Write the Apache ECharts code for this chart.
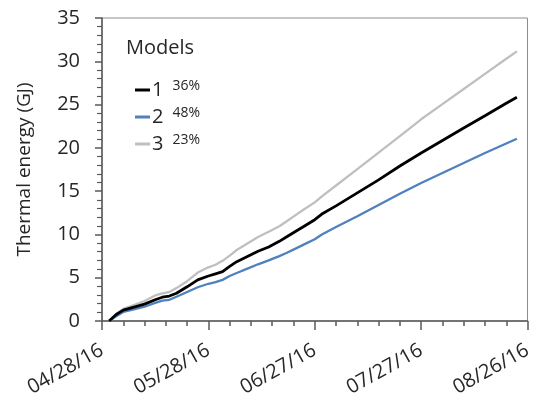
<!DOCTYPE html>
<html>
<head>
<meta charset="utf-8">
<script src="https://cdn.jsdelivr.net/npm/echarts@6/dist/echarts.min.js"></script>
<style>
  html, body { margin: 0; padding: 0; background: #fff; }
  #chart { width: 535px; height: 409px; }
</style>
</head>
<body>
<div id="chart"></div>
<script>
// Cumulative thermal energy per model, sampled on these dates
const dates = [
  '2016-04-30', '2016-05-02', '2016-05-04', '2016-05-07', '2016-05-10', '2016-05-13',
  '2016-05-15', '2016-05-17', '2016-05-19', '2016-05-22', '2016-05-25', '2016-05-28',
  '2016-05-30', '2016-06-01', '2016-06-03', '2016-06-05', '2016-06-08', '2016-06-11',
  '2016-06-14', '2016-06-17', '2016-06-19', '2016-06-22', '2016-06-24', '2016-06-27',
  '2016-06-29', '2016-07-03', '2016-07-09', '2016-07-15', '2016-07-21', '2016-07-27',
  '2016-08-02', '2016-08-08', '2016-08-14', '2016-08-20', '2016-08-23'
];
const model1 = [
  0, 0.75, 1.25, 1.6, 1.95, 2.45, 2.75, 2.88, 3.2, 3.95, 4.75, 5.2,
  5.45, 5.7, 6.3, 6.85, 7.45, 8.05, 8.55, 9.2, 9.7, 10.45, 10.95, 11.7,
  12.35, 13.3, 14.8, 16.3, 17.9, 19.4, 20.85, 22.3, 23.7, 25.15, 25.85
];
const model2 = [
  0, 0.55, 1.05, 1.35, 1.65, 2.1, 2.35, 2.45, 2.8, 3.35, 3.9, 4.3,
  4.5, 4.75, 5.2, 5.55, 6.05, 6.55, 7.0, 7.5, 7.85, 8.45, 8.85, 9.45,
  10.0, 10.85, 12.1, 13.4, 14.7, 15.95, 17.1, 18.25, 19.4, 20.5, 21.05
];
const model3 = [
  0, 0.8, 1.4, 1.85, 2.3, 2.95, 3.2, 3.35, 3.8, 4.6, 5.6, 6.2,
  6.5, 6.95, 7.55, 8.2, 8.95, 9.7, 10.3, 10.95, 11.5, 12.35, 12.9, 13.7,
  14.4, 15.65, 17.55, 19.45, 21.35, 23.3, 25.05, 26.8, 28.55, 30.3, 31.15
];
const modelNames = ['1', '2', '3'];
const modelShares = ['36%', '48%', '23%'];
const modelColors = ['#000000', '#4f81bd', '#bfbfbf'];

// x axis runs in days from the start date; labels are shown as MM/DD/YY
const startDate = '2016-04-28';
const dayMs = 86400000;
const t0 = Date.parse(startDate);
const dayOf = d => Math.round((Date.parse(d) - t0) / dayMs);
const fmtDate = n => {
  const d = new Date(t0 + n * dayMs);
  const mm = String(d.getUTCMonth() + 1).padStart(2, '0');
  const dd = String(d.getUTCDate()).padStart(2, '0');
  const yy = String(d.getUTCFullYear()).slice(2);
  return mm + '/' + dd + '/' + yy;
};

const FONT = 'Open Sans';
const TXT = '#262626';
const AX = '#595959';

const seriesValues = [model1, model2, model3];
const series = seriesValues.map((vals, i) => ({
  name: modelNames[i],
  type: 'line',
  symbol: 'none',
  data: dates.map((d, k) => [dayOf(d), vals[k]]),
  lineStyle: { color: modelColors[i], width: i === 0 ? 2.8 : 2.3 },
  itemStyle: { color: modelColors[i] },
  z: 3 - i
}));

const chart = echarts.init(document.getElementById('chart'), null, { renderer: 'canvas' });
chart.setOption({
  animation: false,
  backgroundColor: '#fff',
  grid: {
    left: 102, right: 3, top: 18, bottom: 88,
    show: true, borderColor: '#8c8c8c', borderWidth: 1
  },
  title: {
    text: 'Models',
    left: 121, top: 33,
    textStyle: { fontFamily: FONT, fontSize: 20, fontWeight: 'normal', color: TXT }
  },
  legend: {
    orient: 'vertical',
    left: 130, top: 74,
    icon: 'rect',
    itemWidth: 15, itemHeight: 3,
    itemGap: 6,
    data: modelNames,
    formatter: name => '{n|' + name + '}{p|' + modelShares[modelNames.indexOf(name)] + '}',
    textStyle: {
      fontFamily: FONT, color: TXT, padding: [0, 0, 0, -3],
      rich: {
        n: { fontFamily: FONT, fontSize: 20, lineHeight: 22, color: TXT },
        p: { fontFamily: FONT, fontSize: 14, lineHeight: 19, verticalAlign: 'top', padding: [0, 0, 0, 9], color: TXT }
      }
    }
  },
  xAxis: {
    type: 'value',
    min: 0, max: 120, interval: 30,
    axisLine: { show: true, lineStyle: { color: AX, width: 1.5 } },
    axisTick: { show: true, length: 9, lineStyle: { color: AX, width: 1.5 } },
    minorTick: { show: true, splitNumber: 5, length: 5, lineStyle: { color: AX, width: 1.5 } },
    splitLine: { show: false },
    axisLabel: {
      rotate: 29, margin: 28,
      fontFamily: FONT, fontSize: 20, color: TXT,
      formatter: v => fmtDate(v)
    }
  },
  yAxis: {
    type: 'value',
    min: 0, max: 35, interval: 5,
    name: 'Thermal energy (GJ)',
    nameLocation: 'middle',
    nameGap: 68,
    nameTextStyle: { fontFamily: FONT, fontSize: 19, color: TXT },
    axisLine: { show: true, lineStyle: { color: AX, width: 1.5 } },
    axisTick: { show: true, length: 7, lineStyle: { color: AX, width: 1.5 } },
    minorTick: { show: true, splitNumber: 5, length: 5, lineStyle: { color: AX, width: 1.2 } },
    splitLine: { show: false },
    axisLabel: { margin: 22, fontFamily: FONT, fontSize: 20, color: TXT }
  },
  series: series
});
</script>
</body>
</html>
